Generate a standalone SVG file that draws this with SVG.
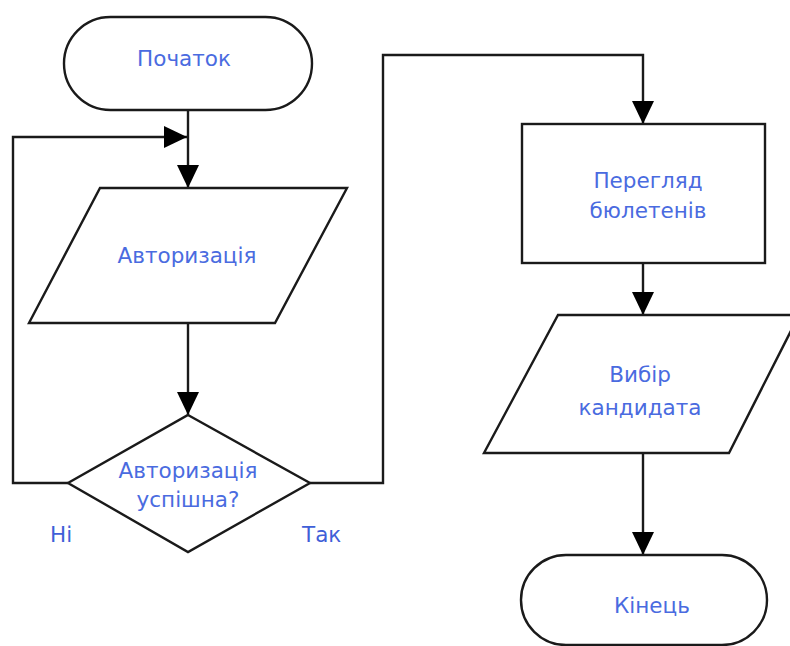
<svg xmlns="http://www.w3.org/2000/svg" width="790" height="646" viewBox="0 0 790 646">
<style>
.s{fill:#fff;stroke:#1a1a1a;stroke-width:2.4}
.c{fill:none;stroke:#1a1a1a;stroke-width:2.4}
.t{font-family:"DejaVu Sans",Verdana,sans-serif;font-size:21.5px;fill:#4a6be0;text-anchor:middle}
.l{font-family:"DejaVu Sans",Verdana,sans-serif;font-size:21.5px;fill:#3f5fd8}
</style>
<defs>
<marker id="ah" markerUnits="userSpaceOnUse" markerWidth="24" markerHeight="22" viewBox="0 0 23 22" refX="23" refY="11" orient="auto">
<path d="M0,0 L23,11 L0,22 z" fill="#000"/>
</marker>
</defs>
<rect width="790" height="646" fill="#fff"/>
<g id="connectors">
<path class="c" d="M188,110 V188" marker-end="url(#ah)"/>
<path class="c" d="M68,483 H13 V137 H187" marker-end="url(#ah)"/>
<path class="c" d="M188,323 V415" marker-end="url(#ah)"/>
<path class="c" d="M310,483 H383 V55 H643 V124" marker-end="url(#ah)"/>
<path class="c" d="M643,263 V315" marker-end="url(#ah)"/>
<path class="c" d="M643,453 V555" marker-end="url(#ah)"/>
<text class="l" x="50" y="542">Ні</text>
<text class="l" x="302" y="542">Так</text>
</g>
<g id="start">
<rect class="s" x="64" y="17" width="248" height="93" rx="46.5"/>
<text class="t" x="184" y="66">Початок</text>
</g>
<g id="auth">
<polygon class="s" points="100,188 347,188 275,323 29,323"/>
<text class="t" x="187" y="263">Авторизація</text>
</g>
<g id="decision">
<polygon class="s" points="188,415 310,483 188,552 68,483"/>
<text class="t" x="188" y="478">Авторизація</text>
<text class="t" x="188" y="507">успішна?</text>
</g>
<g id="view">
<rect class="s" x="522" y="124" width="243" height="139"/>
<text class="t" x="648" y="188">Перегляд</text>
<text class="t" x="648" y="218">бюлетенів</text>
</g>
<g id="choose">
<polygon class="s" points="558,315 799,315 729,453 484,453"/>
<text class="t" x="640" y="382">Вибір</text>
<text class="t" x="640" y="415">кандидата</text>
</g>
<g id="end">
<rect class="s" x="521" y="555" width="246" height="90" rx="45"/>
<text class="t" x="652" y="613">Кінець</text>
</g>
</svg>
